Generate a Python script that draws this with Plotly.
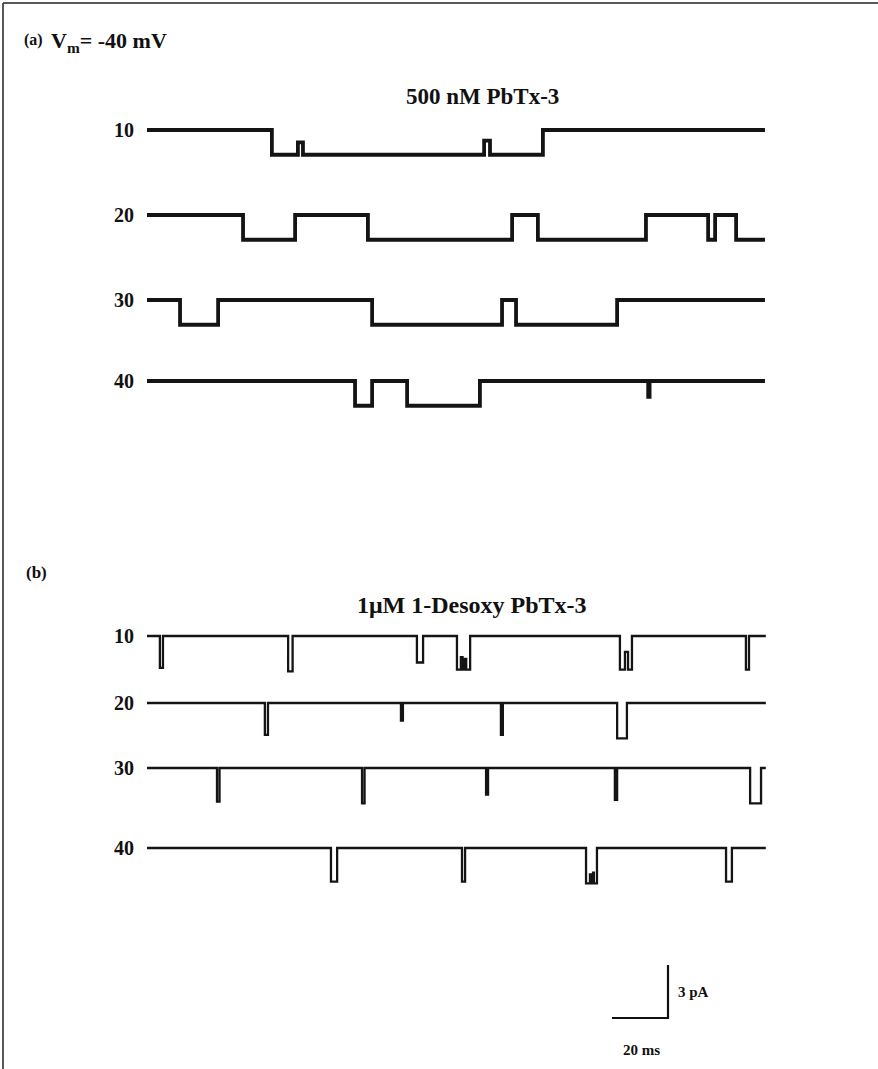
import plotly.graph_objects as go

# ---------------- data (ms, pA) ----------------
row_labels = ["10", "20", "30", "40"]

# Panel (a): 500 nM PbTx-3  -- transition times (ms) and current level (pA) of each segment
a10_t = [0, 44.6, 53.9, 55.7, 120.4, 122.5, 141.4, 220.7]
a10_pA = [0, -1.4, -0.7, -1.4, -0.6, -1.4, 0]
a20_t = [0, 34.3, 52.9, 78.9, 130.4, 139.6, 178.2, 200.4, 202.9, 210.4, 220.7]
a20_pA = [0, -1.4, 0, -1.4, 0, -1.4, 0, -1.4, 0, -1.4]
a30_t = [0, 11.8, 25.4, 80.4, 126.8, 131.8, 167.9, 220.7]
a30_pA = [0, -1.4, 0, -1.4, 0, -1.4, 0]
a40_t = [0, 74.3, 80.4, 92.9, 118.9, 179.0, 179.5, 220.7]
a40_pA = [0, -1.4, 0, -1.4, 0, -0.9, 0]

# Panel (b): 1 uM 1-Desoxy PbTx-3
b10_t = [0, 4.6, 5.7, 50.4, 52.0, 96.4, 98.6, 110.7, 112.1, 112.7, 113.4, 114.0, 115.4,
         168.9, 170.7, 171.8, 173.2, 213.9, 215.0, 221.0]
b10_pA = [0, -1.8, 0, -2.0, 0, -1.5, 0, -1.9, -1.2, -1.9, -1.3, -1.9, 0, -1.9, -0.9, -1.9, 0, -1.9, 0]
b20_t = [0, 42.1, 43.2, 90.7, 91.4, 126.4, 127.1, 167.9, 171.4, 221.0]
b20_pA = [0, -1.8, 0, -1.0, 0, -1.8, 0, -2.0, 0]
b30_t = [0, 25.0, 25.9, 76.8, 77.7, 121.1, 121.8, 167.1, 167.9, 215.4, 219.3, 221.0]
b30_pA = [0, -1.9, 0, -2.0, 0, -1.5, 0, -1.8, 0, -2.0, 0]
b40_t = [0, 65.7, 67.9, 112.5, 113.6, 156.8, 158.2, 158.6, 159.3, 159.6, 160.7, 206.8, 208.9, 221.0]
b40_pA = [0, -1.9, 0, -1.9, 0, -2.0, -1.5, -2.0, -1.4, -2.0, 0, -1.9, 0]

scale_ms = 20
scale_pA = 3

# ---------------- layout geometry (pixels) ----------------
W, H = 878, 1069
PX_PER_MS = 2.8
PX_PER_PA = 53 / 3.0
X0 = 147
T_RANGE = [0, 221.4]
a_rows_px = [130, 215, 300, 381]
b_rows_px = [636, 703, 768, 848]
sb_top_px = 965
sb_x_end_ms = (668 - X0) / PX_PER_MS

def ydom(top_px, bot_px):
    return [1 - bot_px / H, 1 - top_px / H]

fig = go.Figure()
SERIF = "Liberation Serif, Times New Roman, serif"

traces_a = [(a10_t, a10_pA), (a20_t, a20_pA), (a30_t, a30_pA), (a40_t, a40_pA)]
traces_b = [(b10_t, b10_pA), (b20_t, b20_pA), (b30_t, b30_pA), (b40_t, b40_pA)]

layout_axes = {}
ax_i = 0
annotations = []
for panel, rows_px, traces, lw in [("a", a_rows_px, traces_a, 3.8), ("b", b_rows_px, traces_b, 2.3)]:
    for k, (py, (t, pa)) in enumerate(zip(rows_px, traces)):
        ax_i += 1
        yname = "y" if ax_i == 1 else f"y{ax_i}"
        lname = "yaxis" if ax_i == 1 else f"yaxis{ax_i}"
        top = py - 0.6 * PX_PER_PA
        bot = py + 2.6 * PX_PER_PA
        layout_axes[lname] = dict(domain=ydom(top, bot), range=[-2.6, 0.6], visible=False,
                                  fixedrange=True)
        fig.add_trace(go.Scatter(x=t, y=list(pa) + [pa[-1]], mode="lines", line_shape="hv",
                                 line=dict(color="#141414", width=lw), xaxis="x", yaxis=yname,
                                 showlegend=False, hoverinfo="skip"))
        annotations.append(dict(x=124 / W, y=1 - py / H, xref="paper", yref="paper",
                                text=f"<b>{row_labels[k]}</b>", showarrow=False,
                                font=dict(family=SERIF, size=20, color="#111"),
                                xanchor="center", yanchor="middle"))

# scale bar axis
ax_i += 1
sb_name = f"y{ax_i}"
layout_axes[f"yaxis{ax_i}"] = dict(domain=ydom(sb_top_px - 0.2 * PX_PER_PA,
                                              sb_top_px + 3.2 * PX_PER_PA),
                                  range=[-0.2, 3.2], visible=False, fixedrange=True)
fig.add_trace(go.Scatter(x=[sb_x_end_ms - scale_ms, sb_x_end_ms, sb_x_end_ms],
                         y=[0, 0, scale_pA], mode="lines",
                         line=dict(color="#111", width=2.2), xaxis="x", yaxis=sb_name,
                         showlegend=False, hoverinfo="skip"))

x_left = X0 / W
x_right = x_left + (T_RANGE[1] - T_RANGE[0]) * PX_PER_MS / W

def ann(x, y, text, size, xanchor="left", yanchor="middle"):
    annotations.append(dict(x=x / W, y=1 - y / H, xref="paper", yref="paper", text=text,
                            showarrow=False, font=dict(family=SERIF, size=size, color="#111"),
                            xanchor=xanchor, yanchor=yanchor))

ann(22, 40, "<b>(a)</b>", 16)
ann(49, 42, "<b>V<sub>m</sub>= -40 mV</b>", 22)
ann(483, 97, "<b>500 nM PbTx-3</b>", 23, xanchor="center")
ann(24, 572, "<b>(b)</b>", 17)
ann(472, 605, "<b>1μM 1-Desoxy PbTx-3</b>", 24, xanchor="center")
ann(676, 992, "<b>3 pA</b>", 15)
ann(641, 1050, "<b>20 ms</b>", 15, xanchor="center")

shapes = [
    dict(type="line", xref="paper", yref="paper", x0=3 / W, x1=1, y0=1 - 3 / H, y1=1 - 3 / H,
         line=dict(color="#222", width=1.5)),
    dict(type="line", xref="paper", yref="paper", x0=3 / W, x1=3 / W, y0=0, y1=1 - 3 / H,
         line=dict(color="#222", width=1.5)),
]

fig.update_layout(
    width=W, height=H, margin=dict(l=0, r=0, t=0, b=0),
    paper_bgcolor="white", plot_bgcolor="rgba(0,0,0,0)",
    xaxis=dict(domain=[x_left, x_right], range=T_RANGE, visible=False, fixedrange=True),
    annotations=annotations, shapes=shapes, showlegend=False,
    **layout_axes,
)

fig.write_html("out.html", config={"displayModeBar": False, "staticPlot": True},
               post_script="document.body.style.margin='0';document.body.style.overflow='hidden';")
